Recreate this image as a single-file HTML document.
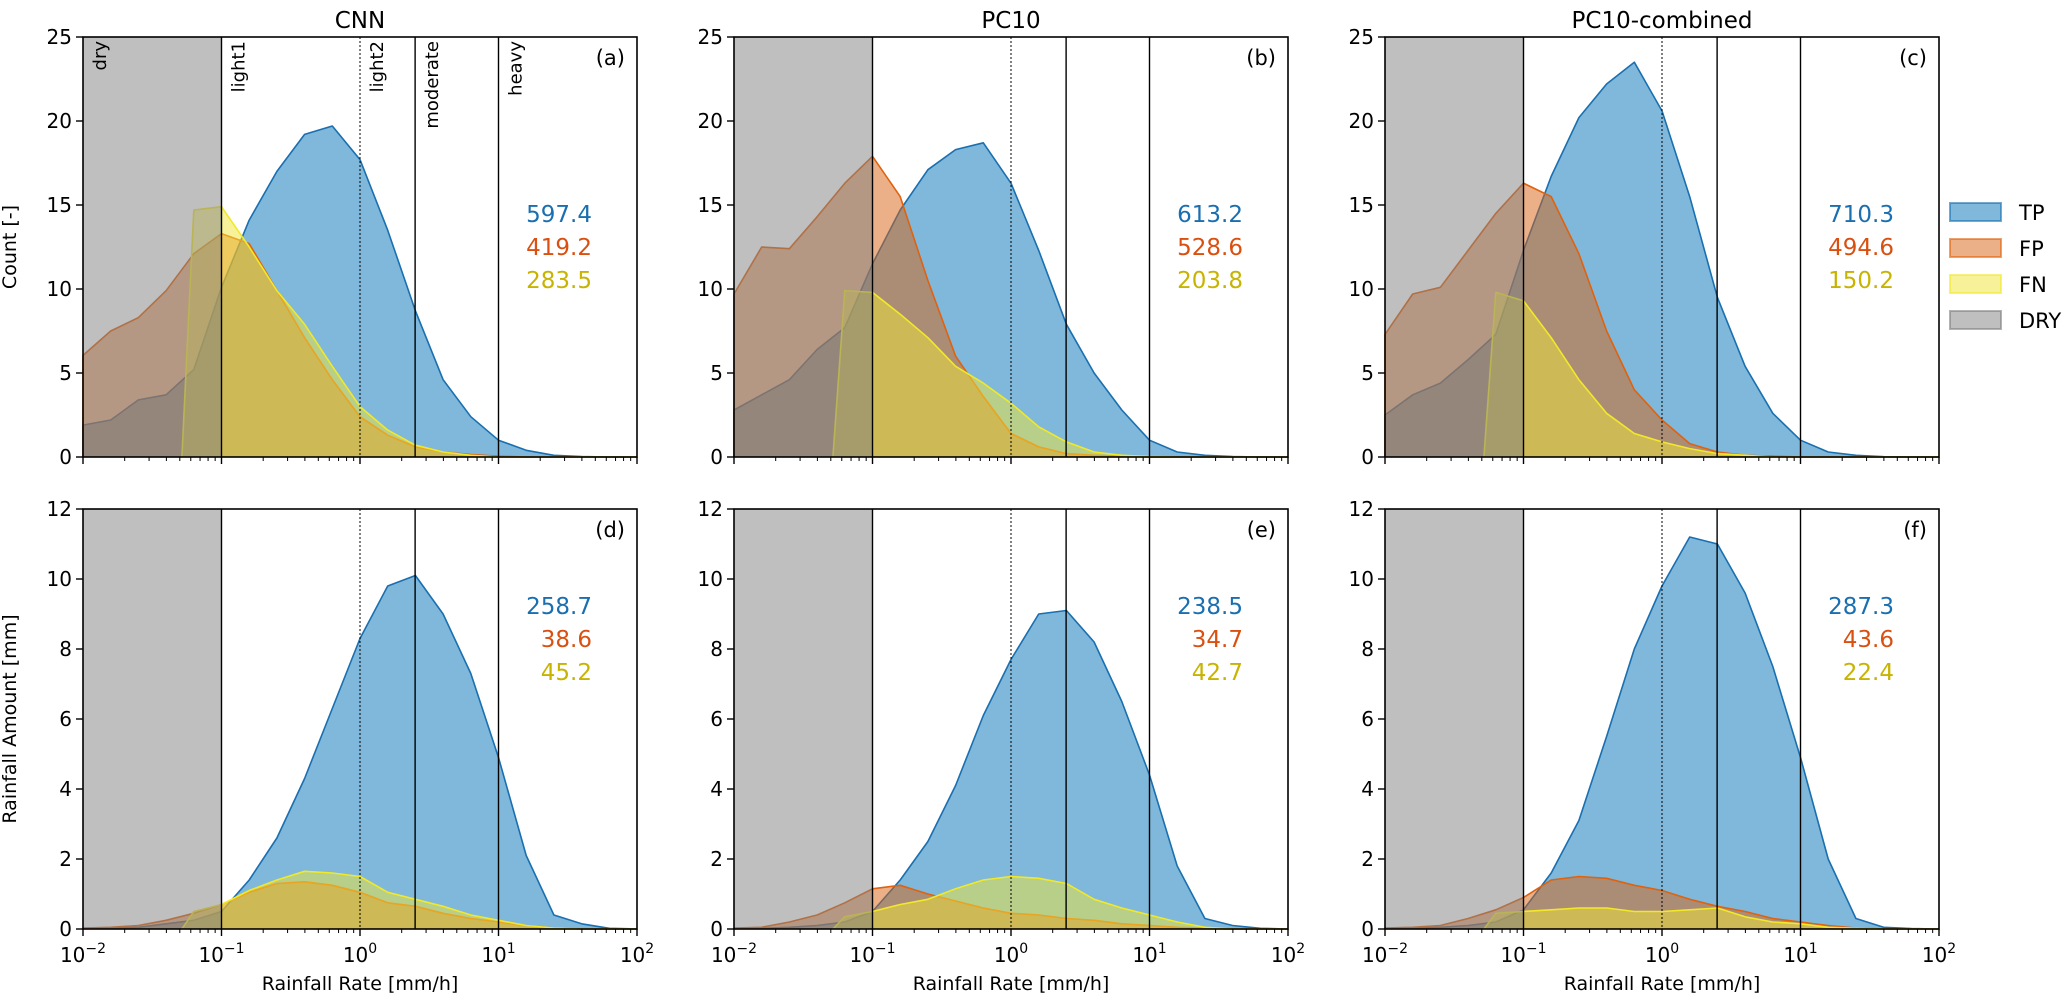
<!DOCTYPE html>
<html><head><meta charset="utf-8"><style>
body{margin:0;background:#fff;}
svg{display:block;font-family:"DejaVu Sans","Liberation Sans",sans-serif;}
</style></head><body>
<svg id="chart" width="2067" height="1002" viewBox="0 0 2067 1002"></svg>
<script>
const logGrid=[-2,-1.8,-1.6,-1.4,-1.2,-1,-0.8,-0.6,-0.4,-0.2,0,0.2,0.4,0.6,0.8,1,1.2,1.4,1.6,1.8,2];
const fnStartLog=-1.286;
const panelTitles=["CNN","PC10","PC10-combined"];
const panelLetters=["(a)","(b)","(c)","(d)","(e)","(f)"];
const countTicks=[0,5,10,15,20,25];
const amountTicks=[0,2,4,6,8,10,12];
const xTickExps=[-2,-1,0,1,2];
const thresholdsSolid=[0.1,2.5,10];
const thresholdDotted=[1];
const classLabels=["dry","light1","light2","moderate","heavy"];
const classLabelX=[0.01,0.1,1,2.5,10];
const tpCount=[[1.9,2.2,3.4,3.7,5.2,10.1,14.1,17,19.2,19.7,17.7,13.5,8.7,4.6,2.4,1,0.4,0.1,0.03,0,0],
[2.8,3.7,4.6,6.4,7.7,11.5,14.7,17.1,18.3,18.7,16.3,12.3,7.9,5,2.8,1,0.3,0.1,0.03,0,0],
[2.5,3.7,4.4,5.8,7.3,12.3,16.7,20.2,22.2,23.5,20.6,15.5,9.5,5.4,2.6,1,0.3,0.1,0.02,0,0]];
const fpCount=[[6.05,7.5,8.3,9.9,12.1,13.3,12.7,9.9,7.1,4.6,2.4,1.3,0.6,0.3,0.15,0.05,0,0,0,0,0],
[9.7,12.5,12.4,14.3,16.3,17.9,15.5,10.5,6,3.6,1.4,0.6,0.2,0.1,0.05,0,0,0,0,0,0],
[7.3,9.7,10.1,12.3,14.5,16.3,15.5,12.1,7.5,4,2.2,0.8,0.3,0.1,0.05,0,0,0,0,0,0]];
const fnCount=[[null,null,null,null,14.7,14.9,12.5,9.9,7.9,5.4,3,1.6,0.7,0.3,0.1,0,0,0,0,0,0],
[null,null,null,null,9.9,9.8,8.5,7.1,5.4,4.4,3.2,1.8,0.9,0.3,0.1,0.03,0,0,0,0,0],
[null,null,null,null,9.8,9.3,7.1,4.6,2.6,1.4,0.9,0.5,0.2,0.1,0,0,0,0,0,0,0]];
const tpAmount=[[0.01,0.02,0.05,0.15,0.25,0.5,1.4,2.6,4.3,6.3,8.3,9.8,10.1,9,7.3,4.9,2.1,0.4,0.15,0.02,0],
[0.01,0.02,0.05,0.1,0.2,0.5,1.4,2.5,4.1,6.1,7.7,9,9.1,8.2,6.5,4.4,1.8,0.3,0.1,0.02,0],
[0.01,0.02,0.05,0.1,0.2,0.55,1.6,3.1,5.5,8,9.8,11.2,11,9.6,7.5,4.9,2,0.3,0.05,0.01,0]];
const fpAmount=[[0.03,0.05,0.1,0.25,0.45,0.7,1.05,1.3,1.35,1.25,1.05,0.75,0.65,0.45,0.3,0.2,0.1,0.03,0,0,0],
[0.03,0.05,0.2,0.4,0.75,1.15,1.25,1,0.8,0.6,0.45,0.4,0.3,0.25,0.15,0.1,0.05,0.02,0,0,0],
[0.03,0.05,0.1,0.3,0.55,0.9,1.4,1.5,1.45,1.25,1.1,0.85,0.65,0.5,0.3,0.2,0.1,0.03,0,0,0]];
const fnAmount=[[null,null,null,null,0.5,0.7,1.1,1.4,1.65,1.6,1.5,1.05,0.85,0.65,0.4,0.25,0.1,0.03,0,0,0],
[null,null,null,null,0.35,0.5,0.7,0.85,1.15,1.4,1.5,1.45,1.3,0.85,0.6,0.4,0.2,0.05,0,0,0],
[null,null,null,null,0.45,0.5,0.55,0.6,0.6,0.5,0.5,0.55,0.6,0.35,0.2,0.15,0.05,0.02,0,0,0]];
const totalsCount=[["597.4","419.2","283.5"],["613.2","528.6","203.8"],["710.3","494.6","150.2"]];
const totalsAmount=[["258.7","38.6","45.2"],["238.5","34.7","42.7"],["287.3","43.6","22.4"]];
const legendLabels=["TP","FP","FN","DRY"];

const NS="http://www.w3.org/2000/svg";
const svg=document.getElementById('chart');
function mk(tag,attrs,parent,text){const e=document.createElementNS(NS,tag);for(const k in attrs)e.setAttribute(k,attrs[k]);if(text!==undefined)e.textContent=text;(parent||svg).appendChild(e);return e;}
const lefts=[83,734,1385],W=554;
const rows=[{top:37,bot:457,max:25,ticks:countTicks,tp:tpCount,fp:fpCount,fn:fnCount,tot:totalsCount,tot0:222},
{top:509,bot:929,max:12,ticks:amountTicks,tp:tpAmount,fp:fpAmount,fn:fnAmount,tot:totalsAmount,tot0:614}];
const TPC=["#0071b5","#1a6fb0"],FPC=["#d76111","#e0620e"],FNC=["#efe535","#f2e82a"];
const totColors=["#1a6fb0","#d95010","#c8b400"];

rows.forEach((r,ri)=>{
 for(let pi=0;pi<3;pi++){
  const L=lefts[pi];
  const xs=l=>L+(l+2)/4*W;
  const ys=v=>r.bot-v/r.max*(r.bot-r.top);
  const g=mk('g',{},svg);
  
  
  function area(vals,col,name,isFn){
   let pts=[];
   if(isFn){pts.push([xs(fnStartLog),ys(0)]);}
   else pts.push([xs(logGrid[0]),ys(0)]);
   vals.forEach((v,i)=>{if(v===null)return;pts.push([xs(logGrid[i]),ys(v)]);});
   pts.push([xs(logGrid[logGrid.length-1]),ys(0)]);
   const d='M'+pts.map(p=>p[0].toFixed(1)+','+p[1].toFixed(1)).join('L');
   const a=mk('path',{d:d+'Z',fill:col[0],'fill-opacity':0.5,stroke:'none'},g);
   
   
   const ln=mk('path',{d:'M'+pts.slice(0,-1).map(p=>p[0].toFixed(1)+','+p[1].toFixed(1)).join('L'),fill:'none',stroke:col[1],'stroke-width':1.6,'stroke-linejoin':'round'},g);
   
   
  }
  area(r.tp[pi],TPC,'tp',false);
  area(r.fp[pi],FPC,'fp',false);
  area(r.fn[pi],FNC,'fn',true);
  const dry=mk('rect',{x:L,y:r.top,width:xs(-1)-L,height:r.bot-r.top,fill:'#808080','fill-opacity':0.5},g);
  
  
  thresholdsSolid.forEach(t=>{const x=xs(Math.log10(t));const l=mk('line',{x1:x,x2:x,y1:r.top,y2:r.bot,stroke:'#000','stroke-width':1.4},g);
   
   });
  thresholdDotted.forEach(t=>{const x=xs(Math.log10(t));const l=mk('line',{x1:x,x2:x,y1:r.top,y2:r.bot,stroke:'#000','stroke-width':1,'stroke-dasharray':'2,2'},g);
   
   });
  const fr=mk('rect',{x:L,y:r.top,width:W,height:r.bot-r.top,fill:'none',stroke:'#000','stroke-width':1.6},g);
  
  
  r.ticks.forEach(t=>{const y=ys(t);mk('line',{x1:L-7,x2:L,y1:y,y2:y,stroke:'#000','stroke-width':1.4},g);
   const tx=mk('text',{x:L-11,y:y+7,'text-anchor':'end','font-size':20},g,String(t));
   
   });
  for(let e=-2;e<=2;e++){const x=xs(e);mk('line',{x1:x,x2:x,y1:r.bot,y2:r.bot+7,stroke:'#000','stroke-width':1.4},g);
   if(e<2)for(let m=2;m<=9;m++){const xm=xs(e+Math.log10(m));mk('line',{x1:xm,x2:xm,y1:r.bot,y2:r.bot+4,stroke:'#000','stroke-width':1},g);}}
  if(ri===1){
   xTickExps.forEach(e=>{const t=mk('text',{x:xs(e),y:r.bot+33,'text-anchor':'middle','font-size':20},g);
    
    
    mk('tspan',{},t,'10');mk('tspan',{dy:-9,'font-size':14},t,e<0?'\u2212'+(-e):String(e));});
   const xt=mk('text',{x:L+W/2,y:990,'text-anchor':'middle','font-size':19},g,'Rainfall Rate [mm/h]');
   
   
  } else {
   const tt=mk('text',{x:L+W/2,y:28,'text-anchor':'middle','font-size':23},g,panelTitles[pi]);
   
   
  }
  const pl=mk('text',{x:L+W-12,y:r.top+28,'text-anchor':'end','font-size':21},g,panelLetters[ri*3+pi]);
  
  
  r.tot[pi].forEach((s,k)=>{const t=mk('text',{x:L+509,y:r.tot0+k*33,'text-anchor':'end','font-size':23,fill:totColors[k]},g,s);
   
   });
  if(ri===0&&pi===0){
   classLabels.forEach((s,k)=>{const x=xs(Math.log10(classLabelX[k]))+23;const y=r.top+4;const t=mk('text',{x:x,y:y,'text-anchor':'end','font-size':18,transform:`rotate(-90 ${x} ${y})`},g,s);
    
    });
  }
 }
});
const yt1=mk('text',{x:16,y:247,'text-anchor':'middle','font-size':19,transform:'rotate(-90 16 247)'},svg,'Count [-]');


const yt2=mk('text',{x:16,y:719,'text-anchor':'middle','font-size':19,transform:'rotate(-90 16 719)'},svg,'Rainfall Amount [mm]');


const legFill=["#0071b5","#d76111","#efe535","#808080"],legStroke=["#1a6fb0","#e0620e","#f2e82a","#808080"];
const lg=mk('g',{},svg);


legendLabels.forEach((s,k)=>{const y=212+k*36;
 const r=mk('rect',{x:1950,y:y-9,width:51,height:18,fill:legFill[k],'fill-opacity':0.5,stroke:legStroke[k],'stroke-opacity':0.6,'stroke-width':2},lg);
 
 
 const t=mk('text',{x:2019,y:y+8,'font-size':21},lg,s);
 
 });
</script>
</body></html>
